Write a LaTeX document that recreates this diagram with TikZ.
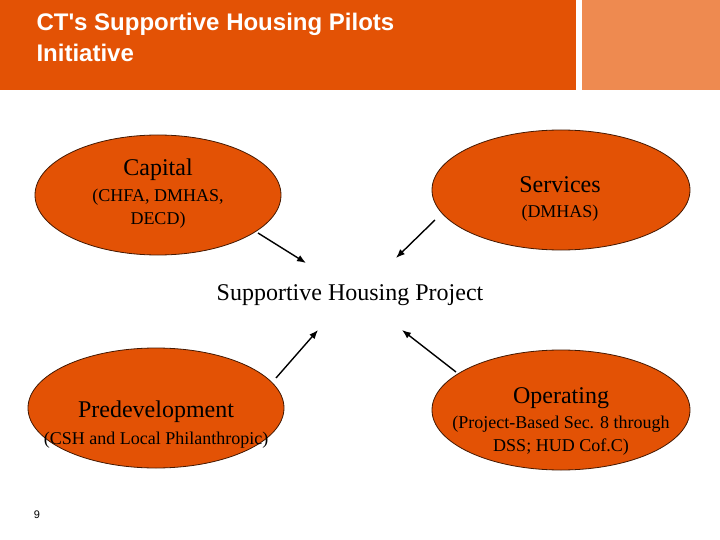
\documentclass[tikz,border=0pt]{standalone}
\usepackage{fontspec}
\usetikzlibrary{arrows.meta}
\setmainfont{Liberation Serif}
\newfontfamily\hsans{Liberation Sans}
\definecolor{org}{HTML}{E35205}
\definecolor{lorg}{HTML}{EE8A50}
\begin{document}
\begin{tikzpicture}[x=1pt,y=-1pt,
  oval/.style={draw=black!70!org,line width=0.8pt,fill=org},
  arr/.style={-{Latex[length=9pt,width=7pt]},line width=1.4pt},
  big/.style={font=\fontsize{24}{26}\selectfont},
  small/.style={font=\fontsize{18}{23}\selectfont,align=center}]
\useasboundingbox (0,0) rectangle (720,540);
\fill[org] (0,0) rectangle (576,90);
\fill[lorg] (582,0) rectangle (720,90);
\node[anchor=west,text=white,font=\hsans\bfseries\fontsize{24}{31}\selectfont,align=left] (title) at (33,37) {CT's Supportive Housing Pilots\\Initiative};
\filldraw[oval] (158,195) ellipse [x radius=123,y radius=60];
\filldraw[oval] (561,190) ellipse [x radius=129,y radius=60];
\filldraw[oval] (156,408) ellipse [x radius=128,y radius=60];
\filldraw[oval] (561,410) ellipse [x radius=129,y radius=60];
\node[big] (cap) at (158,170) {Capital};
\node[small] (capd) at (158,209) {(CHFA, DMHAS,\\DECD)};
\node[big] (ser) at (560,185) {Services};
\node[small] (serd) at (560,213) {(DMHAS)};
\node[big] (pre) at (156,412) {Predevelopment};
\node[small] (pred) at (156,440) {(CSH and Local Philanthropic)};
\node[big] (ope) at (561,398) {Operating};
\node[small] (oped) at (561,436) {(Project-Based Sec. 8 through\\DSS; HUD Cof.C)};
\node[big] (shp) at (350,295) {Supportive Housing Project};
\coordinate (a1) at (258,233); \coordinate (b1) at (306,263);
\coordinate (a2) at (435,220); \coordinate (b2) at (396,258);
\coordinate (a3) at (276,378); \coordinate (b3) at (318,330);
\coordinate (a4) at (456,372); \coordinate (b4) at (402,330);
\draw[arr] (a1) -- (b1);
\draw[arr] (a2) -- (b2);
\draw[arr] (a3) -- (b3);
\draw[arr] (a4) -- (b4);
\node[font=\hsans\fontsize{11}{12}\selectfont] (pg) at (37,515) {9};
\end{tikzpicture}
\end{document}
